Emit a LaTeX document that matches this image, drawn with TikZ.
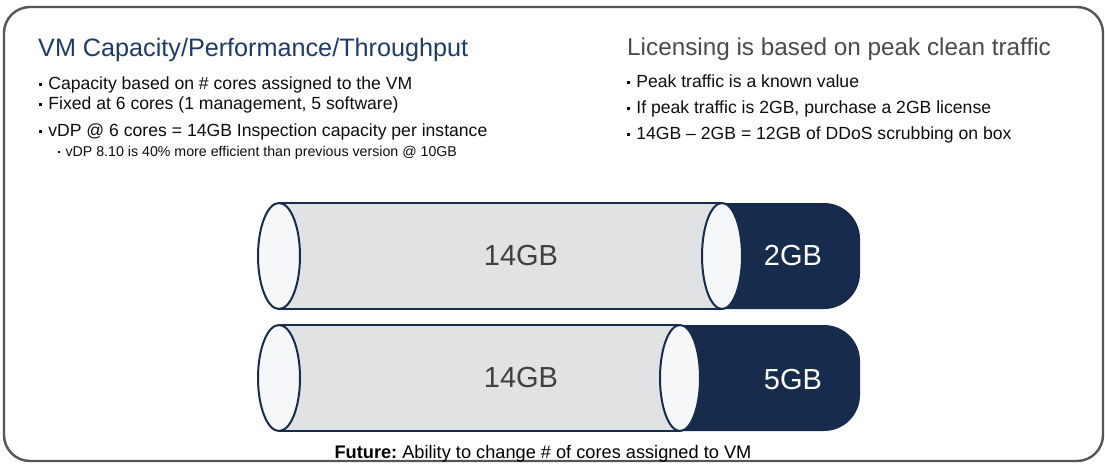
\documentclass[tikz,border=0pt]{standalone}
\usepackage{fontspec}
\setmainfont{Liberation Sans}
\definecolor{navy}{HTML}{172B4D}
\definecolor{titleblue}{HTML}{1F3A68}
\definecolor{titlegray}{HTML}{4A4A4A}
\definecolor{framegray}{HTML}{555555}
\definecolor{bodygray}{HTML}{E1E2E4}
\definecolor{capfill}{HTML}{F6F7F8}
\definecolor{lblgray}{HTML}{404040}
\newcommand{\bdot}{\raisebox{0.19em}{\rule{0.16em}{0.16em}}\hspace{0.36em}}
\begin{document}
\begin{tikzpicture}[x=1pt,y=-1pt,
  ttl/.style={anchor=base west, inner sep=0pt, font=\fontsize{25.2}{28}\selectfont},
  bul/.style={anchor=base west, inner sep=0pt, font=\fontsize{17.6}{20}\selectfont, text=black!95},
  subbul/.style={anchor=base west, inner sep=0pt, font=\fontsize{14.2}{17}\selectfont, text=black!95},
  biglbl/.style={inner sep=0pt, font=\fontsize{29}{32}\selectfont},
  rim/.style={draw=navy, line width=2pt},
  capend/.style={fill=capfill, draw=navy, line width=2pt}]
\useasboundingbox (0,0) rectangle (1105,463);
% frame
\draw[framegray, line width=2.4pt, rounded corners=26pt] (4,7) rectangle (1103,461);
% left column
\node[ttl, text=titleblue] (ltitle) at (38,56) {VM Capacity/Performance/Throughput};
\node[bul] (lb1) at (39,89) {\bdot Capacity based on \# cores assigned to the VM};
\node[bul] (lb2) at (39,109) {\bdot Fixed at 6 cores (1 management, 5 software)};
\node[bul] (lb3) at (39,136) {\bdot vDP @ 6 cores = 14GB Inspection capacity per instance};
\node[subbul] (lb4) at (58,156) {\bdot vDP 8.10 is 40\% more efficient than previous version @ 10GB};
% right column
\node[ttl, text=titlegray, font=\fontsize{24.3}{28}\selectfont] (rtitle) at (627,55) {Licensing is based on peak clean traffic};
\node[bul] (rb1) at (627,87) {\bdot Peak traffic is a known value};
\node[bul] (rb2) at (627,113) {\bdot If peak traffic is 2GB, purchase a 2GB license};
\node[bul] (rb3) at (627,139) {\bdot 14GB -- 2GB = 12GB of DDoS scrubbing on box};
% top cylinder
\begin{scope}
  \clip (722,190) rectangle (900,320);
  \fill[navy, rounded corners=36pt] (600,203) rectangle (860,309);
\end{scope}
\fill[bodygray] (279,203) rectangle (722,309);
\draw[rim] (279,203) -- (722,203) (279,309) -- (722,309);
\draw[capend] (279,256) ellipse [x radius=21pt, y radius=53pt];
\draw[capend] (722,256) ellipse [x radius=20pt, y radius=53pt];
\node[biglbl, text=lblgray] (a14) at (521,256) {14GB};
\node[biglbl, text=white] (a2) at (793,256) {2GB};
% bottom cylinder
\begin{scope}
  \clip (680,312) rectangle (900,440);
  \fill[navy, rounded corners=36pt] (560,325) rectangle (860,431);
\end{scope}
\fill[bodygray] (279,325) rectangle (680,431);
\draw[rim] (279,325) -- (680,325) (279,431) -- (680,431);
\draw[capend] (279,378) ellipse [x radius=21pt, y radius=53pt];
\draw[capend] (680,378) ellipse [x radius=20pt, y radius=53pt];
\node[biglbl, text=lblgray] (b14) at (521,378) {14GB};
\node[biglbl, text=white] (b5) at (793,380) {5GB};
% footer
\node[anchor=base, inner sep=0pt, font=\fontsize{18.2}{20}\selectfont, text=black] (future) at (543,458) {\textbf{Future:}~Ability to change \# of cores assigned to VM};
\end{tikzpicture}
\end{document}
